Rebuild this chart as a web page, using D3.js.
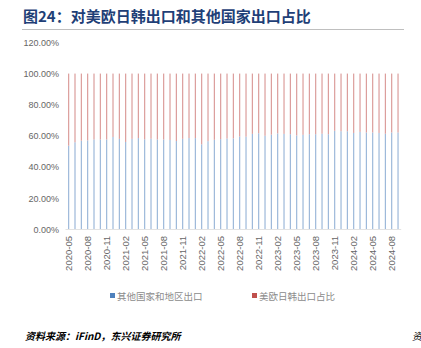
<!DOCTYPE html>
<html><head><meta charset="utf-8">
<script src="https://cdn.jsdelivr.net/npm/d3@7"></script>
<style>
html,body{margin:0;padding:0;background:#fff;}
svg{display:block;}
</style></head>
<body>
<script>
const months = ["2020-05","2020-06","2020-07","2020-08","2020-09","2020-10","2020-11","2020-12",
"2021-01","2021-02","2021-03","2021-04","2021-05","2021-06","2021-07","2021-08","2021-09","2021-10","2021-11","2021-12",
"2022-01","2022-02","2022-03","2022-04","2022-05","2022-06","2022-07","2022-08","2022-09","2022-10","2022-11","2022-12",
"2023-01","2023-02","2023-03","2023-04","2023-05","2023-06","2023-07","2023-08","2023-09","2023-10","2023-11","2023-12",
"2024-01","2024-02","2024-03","2024-04","2024-05","2024-06","2024-07","2024-08","2024-09"];
const otherShare = [53.6,55.8,56.8,57.0,57.6,57.6,57.6,59.2,
58.0,56.0,58.0,58.5,57.7,58.1,57.6,57.6,57.3,56.6,58.0,58.5,
58.5,54.5,56.5,57.4,57.8,58.2,58.3,59.5,59.4,61.2,61.6,60.0,
60.7,61.5,61.2,61.0,60.2,60.6,61.0,61.0,61.3,61.0,63.2,62.9,
62.9,61.8,62.5,62.1,62.1,61.8,61.3,62.1,62.1];
const usEuJpKrShare = otherShare.map(v => +(100 - v).toFixed(1));
const yTicks = [0,20,40,60,80,100,120];
const seriesNames = ["其他国家和地区出口","美欧日韩出口占比"];
const seriesColors = ["#4F81BD","#C0504D"];
const titleText = "图24：对美欧日韩出口和其他国家出口占比";
const sourceText = "资料来源：iFinD，东兴证券研究所";

const W = 421, H = 348;
const svg = d3.select("body").append("svg").attr("width", W).attr("height", H);

// title
svg.append("text").attr("x", 23).attr("y", 22)
  .attr("font-family", "'Noto Sans CJK SC', sans-serif").attr("font-weight", "bold")
  .attr("font-size", 15).attr("fill", "#1F3F77").text(titleText);
svg.append("line").attr("x1", 22).attr("x2", 404).attr("y1", 29.5).attr("y2", 29.5)
  .attr("stroke", "#BFBFBF").attr("stroke-width", 1);

const x = d3.scaleBand().domain(months).range([65.5, 401.2]).padding(0);
const y = d3.scaleLinear().domain([0, 120]).range([229, 42.5]);
const barW = 1.1;

// y axis labels
const yAxis = d3.axisLeft(y).tickValues(yTicks).tickSize(0).tickPadding(0)
  .tickFormat(d => d.toFixed(2) + "%");
const gy = svg.append("g").attr("transform", "translate(59,0)").call(yAxis);
gy.select(".domain").remove();
gy.selectAll("text").attr("font-family", "'Liberation Sans', Arial, sans-serif")
  .attr("font-size", 9).attr("fill", "#666666").attr("dy", "0.35em");

// bars
const stack = months.map((m, i) => ({m, a: otherShare[i], b: usEuJpKrShare[i]}));
const g = svg.append("g").attr("opacity", 0.6);
g.selectAll("rect.a").data(stack).enter().append("rect")
  .attr("x", d => x(d.m) + x.bandwidth()/2 - barW/2).attr("width", barW)
  .attr("y", d => y(d.a)).attr("height", d => y(0) - y(d.a))
  .attr("fill", seriesColors[0]);
g.selectAll("rect.b").data(stack).enter().append("rect")
  .attr("x", d => x(d.m) + x.bandwidth()/2 - barW/2).attr("width", barW)
  .attr("y", d => y(d.a + d.b)).attr("height", d => y(d.a) - y(d.a + d.b))
  .attr("fill", seriesColors[1]);

// x axis
svg.append("line").attr("x1", 65.5).attr("x2", 401.2).attr("y1", 229.5).attr("y2", 229.5)
  .attr("stroke", "#E3E3E3").attr("stroke-width", 1);
const xAxis = d3.axisBottom(x).tickValues(months.filter((m, i) => i % 3 === 0)).tickSize(0).tickPadding(0);
const gx = svg.append("g").attr("transform", "translate(0,236)").call(xAxis);
gx.select(".domain").remove();
gx.selectAll("text").attr("font-family", "'Liberation Sans', Arial, sans-serif")
  .attr("font-size", 9.5).attr("fill", "#666666")
  .attr("transform", "rotate(-90)").attr("text-anchor", "end")
  .attr("x", 0).attr("y", 0).attr("dx", "0").attr("dy", "0.35em");

// legend
const legend = [{x:110, name: seriesNames[0], c: seriesColors[0]},{x:252, name: seriesNames[1], c: seriesColors[1]}];
const lg = svg.selectAll("g.lg").data(legend).enter().append("g");
lg.append("rect").attr("x", d => d.x).attr("y", 293).attr("width", 5).attr("height", 5).attr("fill", d => d.c);
lg.append("text").attr("x", d => d.x + 7).attr("y", 299.5)
  .attr("font-family", "'Noto Sans CJK SC', sans-serif").attr("font-size", 9.5)
  .attr("fill", "#8C8C8C").text(d => d.name);

// source
svg.append("text").attr("x", 25).attr("y", 340)
  .attr("font-family", "'Noto Sans CJK SC', sans-serif").attr("font-size", 10)
  .attr("font-style", "italic").attr("font-weight", "bold").attr("fill", "#000")
  .text(sourceText);
svg.append("text").attr("x", 412).attr("y", 340)
  .attr("font-family", "'Noto Sans CJK SC', sans-serif").attr("font-size", 10)
  .attr("font-style", "italic").attr("fill", "#000").text("资");
</script>
</body></html>
